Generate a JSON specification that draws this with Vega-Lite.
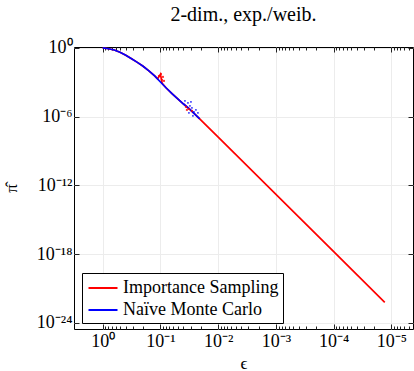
{
  "$schema": "https://vega.github.io/schema/vega-lite/v6.json",
  "autosize": {"type": "none"},
  "width": 339,
  "height": 282,
  "padding": {"left": 74, "top": 47, "right": 1, "bottom": 42},
  "background": "white",
  "config": {
    "view": {"stroke": "black", "strokeWidth": 1},
    "font": "Liberation Serif",
    "axis": {"domain": false, "tickColor": "#222", "labelFont": "Liberation Serif", "titleFont": "Liberation Serif", "labelColor": "black", "titleColor": "black", "titleFontWeight": "normal", "gridColor": "#ececec", "gridWidth": 1}
  },
  "title": {"text": "2-dim., exp./weib.", "font": "Liberation Serif", "fontSize": 20, "fontWeight": "normal", "color": "black", "offset": 14},
  "datasets": {
    "curves": [
      {"m": "Importance Sampling", "eps": 1.0, "pi": 1.0},
      {"m": "Importance Sampling", "eps": 0.794328, "pi": 0.851138},
      {"m": "Importance Sampling", "eps": 0.630957, "pi": 0.660693},
      {"m": "Importance Sampling", "eps": 0.501187, "pi": 0.416869},
      {"m": "Importance Sampling", "eps": 0.398107, "pi": 0.229087},
      {"m": "Importance Sampling", "eps": 0.316228, "pi": 0.112202},
      {"m": "Importance Sampling", "eps": 0.251189, "pi": 0.0549541},
      {"m": "Importance Sampling", "eps": 0.199526, "pi": 0.0251189},
      {"m": "Importance Sampling", "eps": 0.158489, "pi": 0.01},
      {"m": "Importance Sampling", "eps": 0.125893, "pi": 0.00354813},
      {"m": "Importance Sampling", "eps": 0.112202, "pi": 0.00195},
      {"m": "Importance Sampling", "eps": 0.1, "pi": 0.005012},
      {"m": "Importance Sampling", "eps": 0.09333, "pi": 0.0007943},
      {"m": "Importance Sampling", "eps": 0.0794328, "pi": 0.000316228},
      {"m": "Importance Sampling", "eps": 0.0630957, "pi": 0.0001},
      {"m": "Importance Sampling", "eps": 0.0501187, "pi": 0.0000354813},
      {"m": "Importance Sampling", "eps": 0.0398107, "pi": 0.0000125893},
      {"m": "Importance Sampling", "eps": 0.0316228, "pi": 0.0000047863},
      {"m": "Importance Sampling", "eps": 0.0251189, "pi": 0.00000158489},
      {"m": "Importance Sampling", "eps": 0.01, "pi": 1.58489e-8},
      {"m": "Importance Sampling", "eps": 0.001, "pi": 1.58489e-13},
      {"m": "Importance Sampling", "eps": 0.0001, "pi": 1.58489e-18},
      {"m": "Importance Sampling", "eps": 0.00001306, "pi": 6.0256e-23},
      {"m": "Naïve Monte Carlo", "eps": 1.0, "pi": 1.0},
      {"m": "Naïve Monte Carlo", "eps": 0.794328, "pi": 0.851138},
      {"m": "Naïve Monte Carlo", "eps": 0.630957, "pi": 0.660693},
      {"m": "Naïve Monte Carlo", "eps": 0.501187, "pi": 0.416869},
      {"m": "Naïve Monte Carlo", "eps": 0.398107, "pi": 0.229087},
      {"m": "Naïve Monte Carlo", "eps": 0.316228, "pi": 0.112202},
      {"m": "Naïve Monte Carlo", "eps": 0.251189, "pi": 0.0549541},
      {"m": "Naïve Monte Carlo", "eps": 0.199526, "pi": 0.0251189},
      {"m": "Naïve Monte Carlo", "eps": 0.158489, "pi": 0.01},
      {"m": "Naïve Monte Carlo", "eps": 0.125893, "pi": 0.00354813},
      {"m": "Naïve Monte Carlo", "eps": 0.1, "pi": 0.00104713},
      {"m": "Naïve Monte Carlo", "eps": 0.0794328, "pi": 0.000316228},
      {"m": "Naïve Monte Carlo", "eps": 0.0630957, "pi": 0.0001},
      {"m": "Naïve Monte Carlo", "eps": 0.0501187, "pi": 0.0000354813},
      {"m": "Naïve Monte Carlo", "eps": 0.0398107, "pi": 0.0000125893},
      {"m": "Naïve Monte Carlo", "eps": 0.0316228, "pi": 0.0000047863},
      {"m": "Naïve Monte Carlo", "eps": 0.0251189, "pi": 0.00000158489},
      {"m": "Naïve Monte Carlo", "eps": 0.02089, "pi": 6.31e-7}
    ],
    "scatter": [
      {"m": "Naïve Monte Carlo", "eps": 0.03342, "pi": 0.00001585},
      {"m": "Naïve Monte Carlo", "eps": 0.0309, "pi": 0.000008511},
      {"m": "Naïve Monte Carlo", "eps": 0.02851, "pi": 0.000005754},
      {"m": "Naïve Monte Carlo", "eps": 0.0263, "pi": 0.00000257},
      {"m": "Naïve Monte Carlo", "eps": 0.02432, "pi": 0.00000389},
      {"m": "Naïve Monte Carlo", "eps": 0.02742, "pi": 0.000001148},
      {"m": "Naïve Monte Carlo", "eps": 0.03214, "pi": 0.000002089},
      {"m": "Naïve Monte Carlo", "eps": 0.03767, "pi": 0.00002344},
      {"m": "Naïve Monte Carlo", "eps": 0.02244, "pi": 0.000002089},
      {"m": "Naïve Monte Carlo", "eps": 0.02965, "pi": 0.00001905},
      {"m": "Importance Sampling", "eps": 0.09795, "pi": 0.00537},
      {"m": "Importance Sampling", "eps": 0.09057, "pi": 0.002951},
      {"m": "Importance Sampling", "eps": 0.09419, "pi": 0.001622},
      {"m": "Importance Sampling", "eps": 0.1062, "pi": 0.003548},
      {"m": "Importance Sampling", "eps": 0.0869, "pi": 0.001318},
      {"m": "Importance Sampling", "eps": 0.03622, "pi": 0.000007079},
      {"m": "Importance Sampling", "eps": 0.03214, "pi": 0.000004677},
      {"m": "Importance Sampling", "eps": 0.02851, "pi": 0.000003162},
      {"m": "Importance Sampling", "eps": 0.03483, "pi": 0.00000389}
    ]
  },
  "resolve": {"axis": {"x": "independent", "y": "independent"}},
  "layer": [
    {
      "data": {"name": "curves"},
      "mark": {"type": "line", "strokeWidth": 1.7},
      "encoding": {
        "x": {"field": "eps", "type": "quantitative",
          "scale": {"type": "log", "domain": [0.000004236, 3.14], "reverse": true, "nice": false, "zero": false},
          "axis": {"orient": "bottom", "values": [1, 0.1, 0.01, 0.001, 0.0001, 0.00001], "grid": true, "tickSize": -5, "labelPadding": 8, "labelFontSize": 18, "labelExpr": "datum.value >= 0.5 ? '10⁰' : datum.value >= 0.05 ? '10⁻¹' : datum.value >= 0.005 ? '10⁻²' : datum.value >= 0.0005 ? '10⁻³' : datum.value >= 0.00005 ? '10⁻⁴' : '10⁻⁵'", "title": "ϵ", "titleFontSize": 17, "titlePadding": 5}},
        "y": {"field": "pi", "type": "quantitative",
          "scale": {"type": "log", "domain": [2.818e-25, 1.2023], "nice": false, "zero": false},
          "axis": {"orient": "left", "values": [1, 0.000001, 1e-12, 1e-18, 1e-24], "grid": true, "tickSize": -5, "labelPadding": 7, "labelFontSize": 18, "labelExpr": "datum.value >= 0.5 ? '10⁰' : datum.value >= 1e-7 ? '10⁻⁶' : datum.value >= 1e-13 ? '10⁻¹²' : datum.value >= 1e-19 ? '10⁻¹⁸' : '10⁻²⁴'", "title": "π̂", "titleFontSize": 17, "titlePadding": 16}},
        "color": {"field": "m", "type": "nominal",
          "scale": {"domain": ["Importance Sampling", "Naïve Monte Carlo"], "range": ["#ff0000", "#0000ff"]},
          "legend": {"title": null, "orient": "none", "legendX": 8, "legendY": 226, "direction": "vertical", "fillColor": "white", "strokeColor": "black", "padding": 4, "cornerRadius": 0, "symbolType": "M-1.45,0H1.45", "symbolSize": 400, "symbolOffset": 6, "symbolStrokeWidth": 2, "labelFont": "Liberation Serif", "labelFontSize": 18, "labelColor": "black", "rowPadding": 2, "labelOffset": 9}}
      }
    },
    {
      "data": {"name": "scatter"},
      "transform": [{"filter": "datum.m == 'Importance Sampling'"}],
      "mark": {"type": "square", "size": 4, "color": "#ff0000", "opacity": 0.8},
      "encoding": {
        "x": {"field": "eps", "type": "quantitative",
          "scale": {"type": "log", "domain": [0.000004236, 3.14], "reverse": true, "nice": false, "zero": false},
          "axis": {"orient": "top", "values": [1, 0.1, 0.01, 0.001, 0.0001, 0.00001], "grid": false, "tickSize": -5, "labels": false, "title": null}},
        "y": {"field": "pi", "type": "quantitative",
          "scale": {"type": "log", "domain": [2.818e-25, 1.2023], "nice": false, "zero": false},
          "axis": {"orient": "right", "values": [1, 0.000001, 1e-12, 1e-18, 1e-24], "grid": false, "tickSize": -5, "labels": false, "title": null}}
      }
    },
    {
      "data": {"name": "scatter"},
      "transform": [{"filter": "datum.m == 'Naïve Monte Carlo'"}],
      "mark": {"type": "square", "size": 3, "color": "#0000ff", "opacity": 0.7},
      "encoding": {
        "x": {"field": "eps", "type": "quantitative",
          "scale": {"type": "log", "domain": [0.000004236, 3.14], "reverse": true, "nice": false, "zero": false},
          "axis": {"orient": "bottom", "values": [0.9, 0.8, 0.7, 0.6, 0.5, 0.4, 0.3, 0.2, 0.09, 0.08, 0.07, 0.06, 0.05, 0.04, 0.03, 0.02, 0.009, 0.008, 0.007, 0.006, 0.005, 0.004, 0.003, 0.002, 0.0009, 0.0008, 0.0007, 0.0006, 0.0005, 0.0004, 0.0003, 0.0002, 0.00009, 0.00008, 0.00007, 0.00006, 0.00005, 0.00004, 0.00003, 0.00002, 0.000009, 0.000008, 0.000007, 0.000006, 0.000005], "grid": false, "tickSize": -3, "labels": false, "title": null}},
        "y": {"field": "pi", "type": "quantitative",
          "scale": {"type": "log", "domain": [2.818e-25, 1.2023], "nice": false, "zero": false},
          "axis": null}
      }
    },
    {
      "data": {"values": [{"eps": 1, "pi": 1}]},
      "mark": {"type": "point", "opacity": 0},
      "encoding": {
        "x": {"field": "eps", "type": "quantitative",
          "scale": {"type": "log", "domain": [0.000004236, 3.14], "reverse": true, "nice": false, "zero": false},
          "axis": {"orient": "top", "values": [0.9, 0.8, 0.7, 0.6, 0.5, 0.4, 0.3, 0.2, 0.09, 0.08, 0.07, 0.06, 0.05, 0.04, 0.03, 0.02, 0.009, 0.008, 0.007, 0.006, 0.005, 0.004, 0.003, 0.002, 0.0009, 0.0008, 0.0007, 0.0006, 0.0005, 0.0004, 0.0003, 0.0002, 0.00009, 0.00008, 0.00007, 0.00006, 0.00005, 0.00004, 0.00003, 0.00002, 0.000009, 0.000008, 0.000007, 0.000006, 0.000005], "grid": false, "tickSize": -3, "labels": false, "title": null}},
        "y": {"field": "pi", "type": "quantitative",
          "scale": {"type": "log", "domain": [2.818e-25, 1.2023], "nice": false, "zero": false},
          "axis": null}
      }
    }
  ]
}
